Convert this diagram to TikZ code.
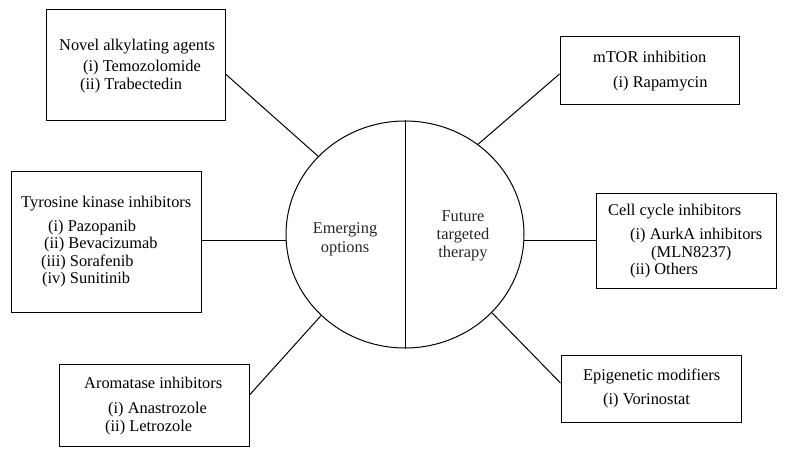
\documentclass[tikz,border=0pt]{standalone}
\usepackage{fontspec}
\setmainfont{Liberation Serif}
\usetikzlibrary{shapes.geometric}
\begin{document}
\begin{tikzpicture}[x=1pt,y=-1pt,
  tbox/.style={draw, line width=1pt, rectangle, inner sep=0pt},
  txt/.style={inner sep=0pt, anchor=base west, font=\fontsize{16.4}{19}\selectfont},
  ctxt/.style={inner sep=0pt, anchor=base, font=\fontsize{16.4}{19}\selectfont, text=black!85},
  link/.style={line width=1pt}]
\useasboundingbox (0,0) rectangle (786,457);
% central ellipse
\node[draw, line width=1pt, ellipse, minimum width=238pt, minimum height=227pt, inner sep=0pt] (c) at (405,234.5) {};
\draw[link] (c.north) -- (c.south);
\node[ctxt] (e1) at (345,233) {Emerging};
\node[ctxt] (e2) at (345,252) {options};
\node[ctxt] (f1) at (463,221) {Future};
\node[ctxt] (f2) at (463,239) {targeted};
\node[ctxt] (f3) at (463,257) {therapy};
% boxes
\node[tbox, minimum width=179pt, minimum height=111pt] (b1) at (135.5,65.5) {};
\node[tbox, minimum width=190pt, minimum height=140pt] (b2) at (106,242) {};
\node[tbox, minimum width=190pt, minimum height=82pt] (b3) at (154,405) {};
\node[tbox, minimum width=179pt, minimum height=68pt] (b4) at (649.5,71) {};
\node[tbox, minimum width=180pt, minimum height=95pt] (b5) at (686,240.5) {};
\node[tbox, minimum width=180pt, minimum height=67pt] (b6) at (651,388.5) {};
% texts
\node[txt] (t1) at (59,51) {Novel alkylating agents};
\node[txt] (t1a) at (83,72) {(i) Temozolomide};
\node[txt] (t1b) at (80,90) {(ii) Trabectedin};
\node[txt] (t2) at (21,207) {Tyrosine kinase inhibitors};
\node[txt] (t2a) at (48,231) {(i) Pazopanib};
\node[txt] (t2b) at (44,248.5) {(ii) Bevacizumab};
\node[txt] (t2c) at (41,266) {(iii) Sorafenib};
\node[txt] (t2d) at (42,283.5) {(iv) Sunitinib};
\node[txt] (t3) at (84,388) {Aromatase inhibitors};
\node[txt] (t3a) at (108,413) {(i) Anastrozole};
\node[txt] (t3b) at (105,431) {(ii) Letrozole};
\node[txt] (t4) at (593,63) {mTOR inhibition};
\node[txt] (t4a) at (613,88) {(i) Rapamycin};
\node[txt] (t5) at (608,215) {Cell cycle inhibitors};
\node[txt] (t5a) at (630,239) {(i) AurkA inhibitors};
\node[txt] (t5b) at (651,257) {(MLN8237)};
\node[txt] (t5c) at (630,274) {(ii) Others};
\node[txt] (t6) at (583,380) {Epigenetic modifiers};
\node[txt] (t6a) at (603,404) {(i) Vorinostat};
% attachment points
\coordinate (p1) at (b1.east |- 0,74);
\coordinate (p2) at (b2.east |- 0,240);
\coordinate (q2) at (285.7,240);
\coordinate (p3) at (b3.east |- 0,395);
\coordinate (p4) at (b4.west |- 0,74);
\coordinate (p5) at (b5.west |- 0,240.5);
\coordinate (q5) at (524.2,240.5);
\coordinate (p6) at (b6.west |- 0,383);
% connectors
\draw[link] (p1) -- (c.138);
\draw[link] (p2) -- (q2);
\draw[link] (p3) -- (c.224);
\draw[link] (p4) -- (c.51.4);
\draw[link] (p5) -- (q5);
\draw[link] (p6) -- (c.318);
\end{tikzpicture}
\end{document}
